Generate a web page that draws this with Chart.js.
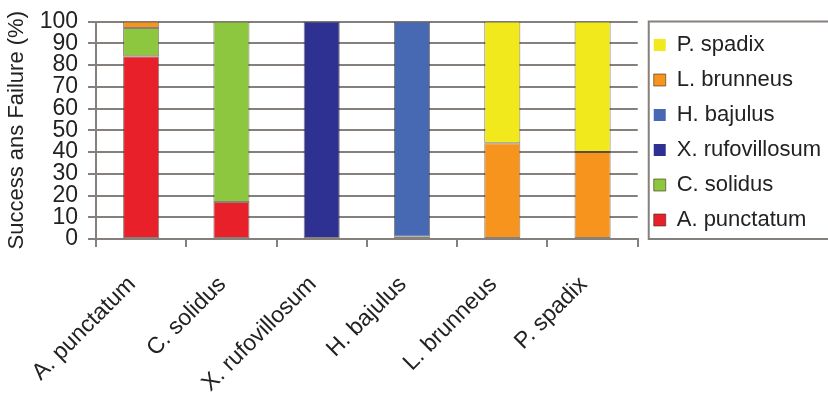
<!DOCTYPE html>
<html>
<head>
<meta charset="utf-8">
<script src="https://cdn.jsdelivr.net/npm/chart.js@4/dist/chart.umd.min.js"></script>
<style>
  html, body { margin: 0; padding: 0; background: #ffffff; }
  #chart { display: block; }
</style>
</head>
<body>
<canvas id="chart" width="828" height="398"></canvas>
<script>
// Species tested (one bar each) and the share (%) each group contributes
const categories = ['A. punctatum', 'C. solidus', 'X. rufovillosum', 'H. bajulus', 'L. brunneus', 'P. spadix'];

const aPunctatum     = [84, 17, 0, 0, 0, 0];
const cSolidus       = [13, 83, 0, 1, 0, 0];
const xRufovillosum  = [0, 0, 100, 0, 0, 0];
const hBajulus       = [0, 0, 0, 99, 0, 0];
const lBrunneus      = [3, 0, 0, 0, 44, 40];
const pSpadix        = [0, 0, 0, 0, 56, 60];

const yTicks = [0, 10, 20, 30, 40, 50, 60, 70, 80, 90, 100];

const FONT = "'Liberation Sans', Arial, sans-serif";
const TEXT = '#222222';
const GRID = '#85807b';

// thin outline on drawn segments only; empty segments get no border
const outline = c => (c.type === 'data' && !c.raw) ? 0 : 1;

function series(label, data, color) {
  return {
    label, data,
    backgroundColor: color,
    borderColor: 'rgba(60,45,30,0.6)',
    borderWidth: outline,
    borderSkipped: false,
    barPercentage: 0.4,
    categoryPercentage: 1.0
  };
}

// framed legend box beside the plot
const legendFrame = {
  id: 'legendFrame',
  afterLayout(chart) {
    chart.legend.left += 3;
    chart.legend.right += 3;
  },
  afterDraw(chart) {
    const {ctx, chartArea} = chart;
    ctx.save();
    ctx.strokeStyle = GRID;
    ctx.lineWidth = 2;
    ctx.strokeRect(chartArea.right + 11, chartArea.top, 300, chartArea.bottom - chartArea.top);
    ctx.restore();
  }
};

new Chart(document.getElementById('chart'), {
  type: 'bar',
  data: {
    labels: categories,
    datasets: [
      series('A. punctatum', aPunctatum, '#e8202a'),
      series('C. solidus', cSolidus, '#8dc63f'),
      series('X. rufovillosum', xRufovillosum, '#2e3192'),
      series('H. bajulus', hBajulus, '#4768b3'),
      series('L. brunneus', lBrunneus, '#f7941d'),
      series('P. spadix', pSpadix, '#f2e91c')
    ]
  },
  options: {
    responsive: false,
    animation: false,
    devicePixelRatio: 1,
    layout: { padding: { top: 21, left: 0, right: 0, bottom: 0 } },
    plugins: {
      tooltip: { enabled: false },
      legend: {
        position: 'right',
        align: 'start',
        fullSize: true,
        reverse: true,
        labels: {
          boxWidth: 12,
          boxHeight: 12,
          padding: 13,
          color: TEXT,
          font: { family: FONT, size: 22 }
        }
      }
    },
    scales: {
      x: {
        stacked: true,
        afterFit: s => { s.height = 159; },
        grid: {
          display: true,
          offset: true,
          drawOnChartArea: false,
          drawTicks: true,
          tickLength: 8,
          color: GRID,
          lineWidth: 2
        },
        border: { display: true, color: GRID, width: 2 },
        ticks: {
          color: TEXT,
          font: { family: FONT, size: 23 },
          minRotation: 45,
          maxRotation: 45,
          autoSkip: false,
          padding: 24,
          labelOffset: -9
        }
      },
      y: {
        stacked: true,
        min: 0,
        max: 100,
        afterFit: s => { s.width = 96; },
        afterBuildTicks: s => { s.ticks = yTicks.map(v => ({ value: v })); },
        grid: {
          color: GRID,
          lineWidth: 2,
          drawTicks: true,
          tickLength: 8
        },
        border: { display: true, color: GRID, width: 2 },
        ticks: {
          color: TEXT,
          autoSkip: false,
          padding: 10,
          font: { family: FONT, size: 23, lineHeight: 1 }
        },
        title: {
          display: true,
          text: 'Success ans Failure (%)',
          color: TEXT,
          font: { family: FONT, size: 22 },
          padding: { top: 4, bottom: 0 }
        }
      }
    }
  },
  plugins: [legendFrame]
});
</script>
</body>
</html>
